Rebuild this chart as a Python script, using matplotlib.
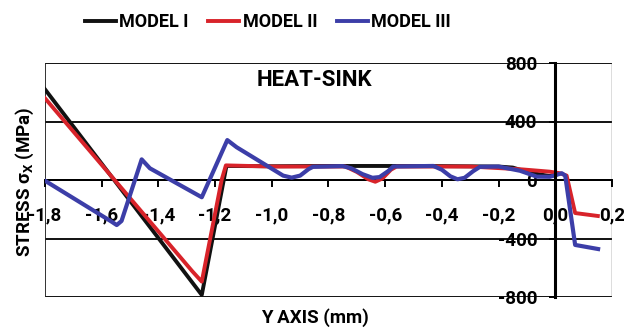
import matplotlib
matplotlib.use("Agg")
import matplotlib.pyplot as plt
from matplotlib.lines import Line2D

FAM = ['Roboto', 'DejaVu Sans']
plt.rcParams['font.family'] = FAM
plt.rcParams['font.weight'] = 'bold'
plt.rcParams['mathtext.fontset'] = 'custom'
plt.rcParams['mathtext.rm'] = 'Roboto:bold'
plt.rcParams['mathtext.bf'] = 'Roboto:bold'
plt.rcParams['mathtext.it'] = 'Roboto:bold'

# ---- data ----
m1_x = [-1.8, -1.247, -1.16, -1.0, -0.8, -0.6, -0.4, -0.2, -0.15, -0.09, -0.02, 0.0]
m1_y = [620, -786, 96, 94, 96, 96, 95, 92, 85, 50, 27, 35]

m2_x = [-1.8, -1.28, -1.247, -1.177, -1.162, -1.0, -0.74, -0.70, -0.66, -0.635, -0.61,
        -0.58, -0.56, -0.3, -0.12, -0.02, 0.017, 0.04, 0.07, 0.15]
m2_y = [559, -625, -695, 0, 100, 92, 92, 55, 5, -12, 10,
        70, 92, 92, 73, 57, 46, 30, -226, -246]

m3_x = [-1.8, -1.565, -1.547, -1.53, -1.459, -1.43, -1.247, -1.157, -1.124, -0.96, -0.93,
        -0.90, -0.87, -0.855, -0.75, -0.72, -0.68, -0.645, -0.62, -0.59, -0.572,
        -0.43, -0.40, -0.37, -0.345, -0.32, -0.29, -0.266, -0.2, -0.124, -0.065,
        -0.019, 0.023, 0.035, 0.07, 0.151]
m3_y = [-5, -285, -308, -280, 141, 80, -118, 273, 224, 30, 16,
        30, 75, 90, 95, 80, 40, 15, 20, 60, 92,
        96, 70, 25, 5, 15, 60, 90, 92, 63, 23,
        22, 46, 30, -444, -472]

x_ticks = [-1.8, -1.6, -1.4, -1.2, -1.0, -0.8, -0.6, -0.4, -0.2, 0.0, 0.2]
x_labels = ['-1,8', '-1,6', '-1,4', '-1,2', '-1,0', '-0,8', '-0,6', '-0,4', '-0,2', '0,0', '0,2']
y_ticks = [-800, -400, 0, 400, 800]
y_labels = ['-800', '-400', '0', '400', '800']

labels = ['MODEL I', 'MODEL II', 'MODEL III']
colors = ['#111111', '#d8232a', '#3c3ea8']

# ---- figure ----
fig = plt.figure(figsize=(6.24, 3.31), dpi=100)
ax = fig.add_axes([45/624, 1-297/331, (612-45)/624, (297-63)/331])

ax.set_xlim(-1.8, 0.2)
ax.set_ylim(-800, 800)

# gridlines / frame
for yv in y_ticks:
    ax.axhline(yv, color='#111111', lw=1.4, zorder=1)
ax.axvline(-1.8, color='#222222', lw=1.3, zorder=1)
ax.axvline(0.2, color='#555555', lw=1.0, zorder=1)

ax.plot(m1_x, m1_y, color=colors[0], lw=2.8, zorder=3, solid_joinstyle='round')
ax.plot(m2_x, m2_y, color=colors[1], lw=2.8, zorder=4, solid_joinstyle='round')
ax.plot(m3_x, m3_y, color=colors[2], lw=3.0, zorder=5, solid_joinstyle='round')

for s in ['top', 'right']:
    ax.spines[s].set_visible(False)
ax.spines['left'].set_position(('data', 0))
ax.spines['bottom'].set_position(('data', 0))
ax.spines['left'].set_linewidth(2.2)
ax.spines['bottom'].set_linewidth(1.4)
ax.spines['left'].set_zorder(6)

ax.set_xticks(x_ticks)
ax.set_xticklabels(x_labels, fontweight='bold')
ax.set_yticks(y_ticks)
ax.set_yticklabels(y_labels, fontweight='bold')
ax.tick_params(axis='x', direction='out', length=5, width=1.4, pad=14, labelsize=13.5)
ax.tick_params(axis='y', direction='out', length=4, width=1.4, pad=9, labelsize=13.5)
ax.set_facecolor('white')

fig.text(314/624, 1-80/331, 'HEAT-SINK', fontsize=16, fontweight='bold',
         ha='center', va='center')
fig.text(315/624, 1-318/331, 'Y AXIS (mm)', fontsize=13.5, fontweight='bold',
         ha='center', va='center')
fig.text(25/624, 1-182/331, r'STRESS σ$_\mathrm{X}$ (MPa)', fontsize=13.5, fontweight='bold',
         rotation=90, ha='center', va='center')

handles = [Line2D([0], [0], color=c, lw=2.8) for c in colors]
fig.legend(handles, labels, loc='center', bbox_to_anchor=(268/624, 1-22/331), ncol=3,
           frameon=False, handlelength=1.7, handletextpad=0.2,
           columnspacing=1.1, prop={'family': FAM, 'weight': 'bold', 'size': 13})

fig.savefig('out.png', dpi=100)
